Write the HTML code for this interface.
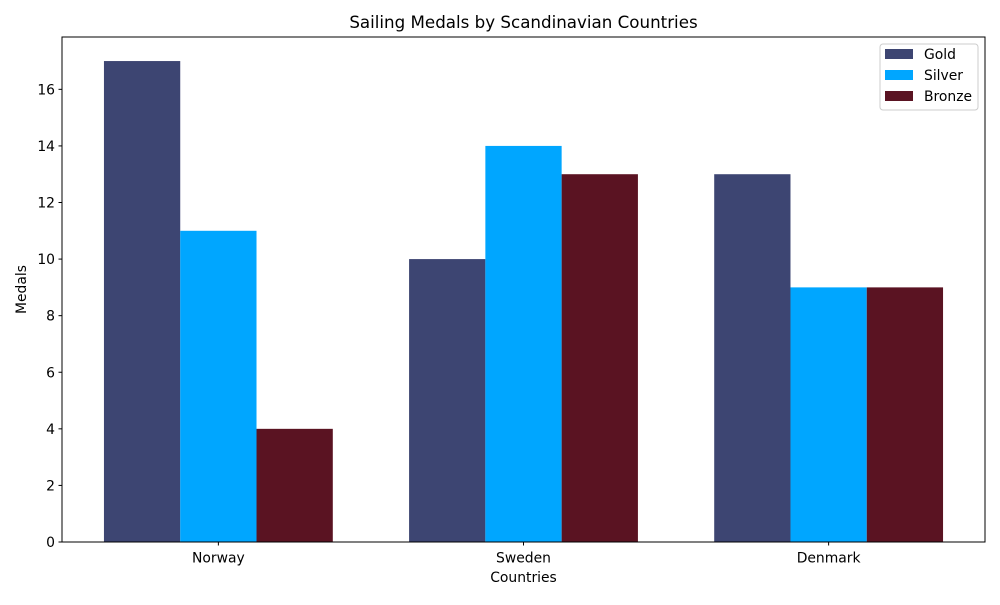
<!DOCTYPE html>
<html><head><meta charset="utf-8"><style>
body{margin:0;background:#fff;font-family:"Liberation Sans","DejaVu Sans",sans-serif;}
svg text{font-family:"DejaVu Sans","Liberation Sans",sans-serif;}
</style></head><body>
<svg id="chart" width="1000" height="600" xmlns="http://www.w3.org/2000/svg"></svg>
<script>
const categories = ["Norway","Sweden","Denmark"];
const gold = [17,10,13];
const silver = [11,14,9];
const bronze = [4,13,9];
const yTicks = [0,2,4,6,8,10,12,14,16];
const seriesNames = ["Gold","Silver","Bronze"];
const colors = ["#3d4572","#00a6ff","#5a1322"];

const L=62,R=985,T=37,B=542;
const xMin=-0.5125,xMax=2.5125,yMax=17.85;
const xS=v=>L+(v-xMin)/(xMax-xMin)*(R-L);
const yS=v=>B-v/yMax*(B-T);
const svg=document.getElementById('chart');
const NS="http://www.w3.org/2000/svg";
function mk(tag,attrs,parent){const e=document.createElementNS(NS,tag);for(const k in attrs)e.setAttribute(k,attrs[k]);(parent||svg).appendChild(e);return e;}

const series=[gold,silver,bronze];
series.forEach((vals,si)=>{
  vals.forEach((v,i)=>{
    const x0=xS(i+(si-1)*0.25-0.125), x1=xS(i+(si-1)*0.25+0.125);
    const r=mk('rect',{x:x0,y:yS(v),width:x1-x0,height:yS(0)-yS(v),fill:colors[si]});
    
    
  });
});
const frame=mk('rect',{x:L,y:T,width:R-L,height:B-T,fill:'none',stroke:'#000','stroke-width':1});



yTicks.forEach(t=>{
  const y=yS(t);
  const tk=mk('line',{x1:L-3.5,x2:L,y1:y,y2:y,stroke:'#000'});
  
  
  const tx=mk('text',{x:L-7,y:y+5,'text-anchor':'end','font-size':13.9});
  tx.textContent=t;
  
  
});
categories.forEach((c,i)=>{
  const x=xS(i);
  const tk=mk('line',{x1:x,x2:x,y1:B,y2:B+3.5,stroke:'#000'});
  
  
  const tx=mk('text',{x:x,y:B+20.5,'text-anchor':'middle','font-size':13.9});
  tx.textContent=c;
  
  
});
const title=mk('text',{x:(L+R)/2,y:28,'text-anchor':'middle','font-size':16.7});
title.textContent="Sailing Medals by Scandinavian Countries";


const xt=mk('text',{x:(L+R)/2,y:582,'text-anchor':'middle','font-size':13.9});
xt.textContent="Countries";


const yt=mk('text',{x:0,y:0,'text-anchor':'middle','font-size':13.9,transform:`translate(26,${(T+B)/2}) rotate(-90)`});
yt.textContent="Medals";



const lg=mk('g',{});


mk('rect',{x:880,y:44,width:98,height:66,rx:3,fill:'#fff','fill-opacity':0.8,stroke:'#ccc'},lg);
seriesNames.forEach((n,i)=>{
  const y=49+i*21;
  const sw=mk('rect',{x:885,y:y,width:28,height:10,fill:colors[i]},lg);
  
  
  const tx=mk('text',{x:924,y:y+10,'font-size':13.9},lg);
  tx.textContent=n;
  
  
});
</script>
</body></html>
